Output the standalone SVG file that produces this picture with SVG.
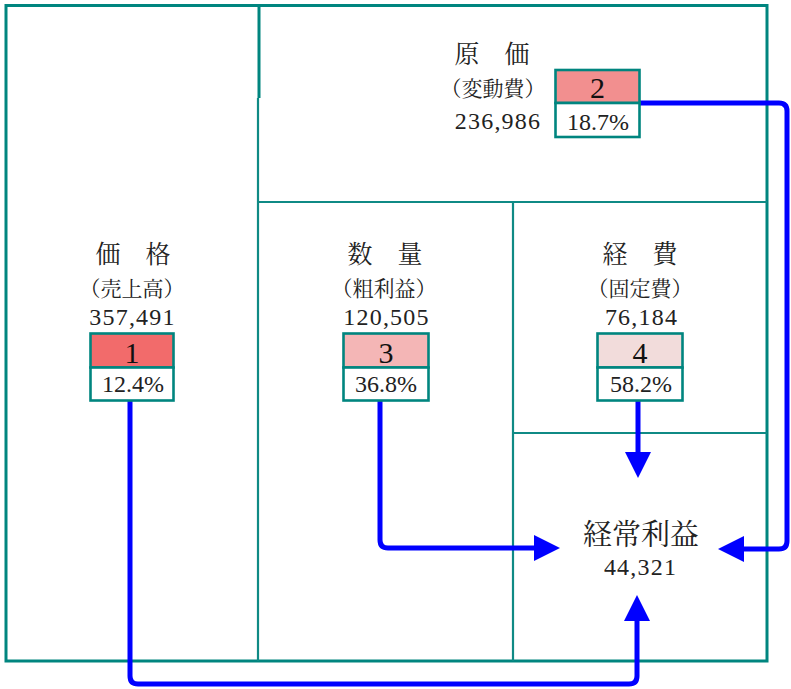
<svg xmlns="http://www.w3.org/2000/svg" width="791" height="689" viewBox="0 0 791 689">
<style>
.frame{fill:none;stroke:#00857f;stroke-width:3}
.inner{fill:none;stroke:#0f8a85;stroke-width:2.2}
.box{stroke:#00857f;stroke-width:2.6}
.wh{fill:#ffffff}
.conn{fill:none;stroke:#0000ff;stroke-width:5;stroke-linejoin:round}
.jp{font-family:"Noto Serif CJK JP","Noto Sans CJK JP",serif;fill:#222;text-anchor:middle}
.num{font-family:"Liberation Serif","Times New Roman",serif;fill:#222;text-anchor:middle}
.t1{font-size:25px}
.t2{font-size:21px}
.t3{font-size:24px}
.cn{letter-spacing:1.2px}
.bn{font-size:30px;fill:#111}
</style>
<defs>
<marker id="ah" markerUnits="userSpaceOnUse" markerWidth="27" markerHeight="28" viewBox="0 -14 27 28" refX="1" refY="0" orient="auto">
<path d="M0,-13 L26,0 L0,13 Z" fill="#0000ff"/>
</marker>
</defs>
<rect width="791" height="689" fill="#ffffff"/>
<g id="frame">
<path class="frame" d="M259,98 V5.5 H767 V661 H6 V5.5 H259"/>
<path class="inner" d="M258,98 V661"/>
<path class="inner" d="M258,202 H767"/>
<path class="inner" d="M513,202 V661"/>
<path class="inner" d="M513,433 H767"/>
</g>
<g id="connectors">
<path class="conn" d="M130,401 V676 Q130,684 138,684 H629 Q637,684 637,676 V620" marker-end="url(#ah)"/>
<path class="conn" d="M380,401 V540 Q380,548 388,548 H535" marker-end="url(#ah)"/>
<path class="conn" d="M638,401 V453" marker-end="url(#ah)"/>
<path class="conn" d="M640,103 H779 Q787,103 787,111 V541 Q787,549 779,549 H743" marker-end="url(#ah)"/>
</g>
<g id="genka">
<text class="jp t1" x="492" y="63">原　価</text>
<text class="jp t2" x="493" y="96">（変動費）</text>
<text class="num t3 cn" x="498" y="129">236,986</text>
<rect class="box" x="555.5" y="70" width="84" height="33" fill="#f28f8f"/>
<rect class="box wh" x="555.5" y="103" width="84" height="34"/>
<text class="num bn" x="597.5" y="98">2</text>
<text class="num t3" x="598" y="130">18.7%</text>
</g>
<g id="kakaku">
<text class="jp t1" x="133" y="263">価　格</text>
<text class="jp t2" x="132" y="296">（売上高）</text>
<text class="num t3 cn" x="132.5" y="325">357,491</text>
<rect class="box" x="90.5" y="333.5" width="83" height="34" fill="#f26b6b"/>
<rect class="box wh" x="90.5" y="367.5" width="83" height="33"/>
<text class="num bn" x="132" y="363">1</text>
<text class="num t3" x="133" y="392">12.4%</text>
</g>
<g id="suryo">
<text class="jp t1" x="385" y="263">数　量</text>
<text class="jp t2" x="384" y="296">（粗利益）</text>
<text class="num t3 cn" x="386.5" y="325">120,505</text>
<rect class="box" x="343.5" y="333.5" width="85" height="34" fill="#f4b6b6"/>
<rect class="box wh" x="343.5" y="367.5" width="85" height="33"/>
<text class="num bn" x="386" y="363">3</text>
<text class="num t3" x="386" y="392">36.8%</text>
</g>
<g id="keihi">
<text class="jp t1" x="640" y="263">経　費</text>
<text class="jp t2" x="640" y="296">（固定費）</text>
<text class="num t3 cn" x="641.5" y="325">76,184</text>
<rect class="box" x="597.5" y="333.5" width="85" height="34" fill="#f2dcdb"/>
<rect class="box wh" x="597.5" y="367.5" width="85" height="33"/>
<text class="num bn" x="640" y="363">4</text>
<text class="num t3" x="641" y="392">58.2%</text>
</g>
<g id="keijo">
<text class="jp" x="641" y="545" font-size="29">経常利益</text>
<text class="num t3 cn" x="640.5" y="575">44,321</text>
</g>
</svg>
